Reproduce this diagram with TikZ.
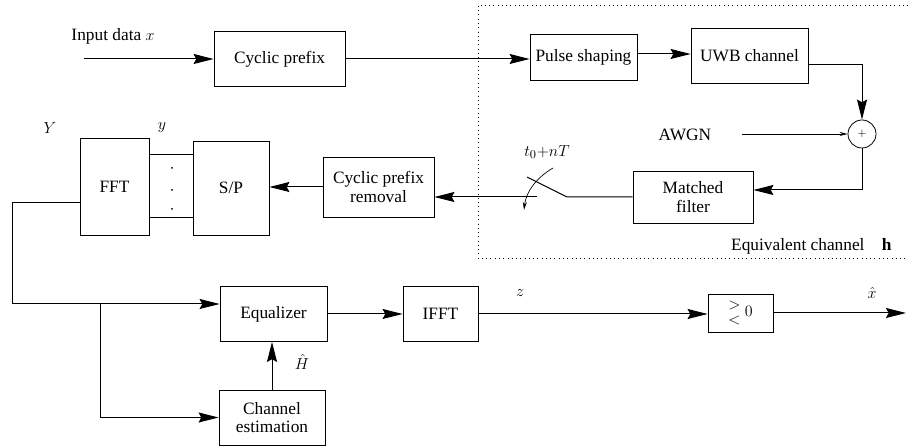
\documentclass[tikz,border=0pt]{standalone}
\usepackage{fontspec}
\setmainfont{LiberationSerif}[Extension=.ttf, UprightFont=*-Regular, BoldFont=*-Bold, ItalicFont=*-Italic, BoldItalicFont=*-BoldItalic]
\usepackage{amsmath}
\usetikzlibrary{arrows.meta}

\tikzset{every picture/.style={line width=0.75pt}}
\tikzset{
  blk/.style={draw, line width=0.6pt, inner sep=0.75pt, align=center, font=\rmfamily\fontsize{13}{14}\selectfont},
  lbl/.style={inner sep=0.75pt, font=\rmfamily\fontsize{13}{14}\selectfont},
  arr/.style={-{Stealth[length=15pt,width=7.5pt,inset=2pt]}},
  thin arr/.style={line width=0.5pt, -{Stealth[length=6pt,width=3pt]}},
}

\begin{document}
\begin{tikzpicture}[x=0.75pt,y=0.75pt,yscale=-1,xscale=1]
\useasboundingbox (0,0) rectangle (908,448);

%Shape: Rectangle (equivalent channel, dotted)
\draw [line width=0.6pt, dash pattern=on 0.6pt off 2.6pt] (908,5) -- (478,5) -- (478,258) -- (908,258) ;

%Shape: Rectangle
\node [blk, minimum width=98.25pt, minimum height=41.25pt] (cp) at (279.5,59) {Cyclic prefix};
%Shape: Rectangle
\node [blk, minimum width=80.25pt, minimum height=34.5pt] (ps) at (583.5,57) {Pulse shaping};
%Shape: Rectangle
\node [blk, minimum width=87.75pt, minimum height=41.25pt] (uwb) at (749.5,56) {UWB channel};
%Shape: Circle
\node [draw, circle, line width=0.6pt, minimum size=21pt, inner sep=0pt, font=\footnotesize] (sum) at (862,134) {$+$};
%Shape: Rectangle
\node [blk, minimum width=90pt, minimum height=39pt] (mf) at (693,197) {Matched\\filter};
%Shape: Rectangle
\node [blk, minimum width=83.25pt, minimum height=45pt] (cpr) at (378.5,187) {Cyclic prefix\\removal};
%Shape: Rectangle
\node [blk, minimum width=57pt, minimum height=70.5pt] (sp) at (231,188) {S/P};
%Shape: Rectangle
\node [blk, minimum width=51.75pt, minimum height=72.75pt] (fft) at (114.5,186.5) {FFT};
%Shape: Rectangle
\node [blk, minimum width=80.25pt, minimum height=41.25pt] (eq) at (273.5,314) {Equalizer};
%Shape: Rectangle
\node [blk, minimum width=56.25pt, minimum height=41.25pt] (ifft) at (440.5,314) {IFFT};
%Shape: Rectangle
\node [blk, minimum width=48.75pt, minimum height=28.5pt] (dec) at (740.5,313) {$\begin{array}{@{}c@{}}>\\[-3pt]<\end{array}\;0$};
%Shape: Rectangle
\node [blk, minimum width=79.5pt, minimum height=41.25pt] (ce) at (272,417.5) {Channel\\estimation};

% Text Node
\node [lbl] (inlbl) at (113,36) {Input data $x$};
% Text Node
\node [lbl] (awgn) at (685,135) {AWGN};
% Text Node
\node [lbl] (tlbl) at (547,152) {$t_0{+}nT$};
% Text Node
\node [lbl] (ylbl) at (50,128) {$Y$};
% Text Node
\node [lbl] (ylow) at (162,128) {$y$};
% Text Node
\node [lbl] (hhat) at (302,362) {$\hat{H}$};
% Text Node
\node [lbl] (zlbl) at (520,293) {$z$};
% Text Node
\node [lbl] (xhat) at (872,293) {$\hat{x}$};
% Text Node
\node [lbl, anchor=east] (eqch) at (893,246) {Equivalent channel\quad$\mathbf{h}$};

\coordinate (in) at (84,59);
\coordinate (out) at (906,313);
\coordinate (noise) at (742,134);
\coordinate (swa) at (567,197);
\coordinate (swb) at (527,177);
\coordinate (swc) at (537,197);
\coordinate (smpa) at (553,168);
\coordinate (smpb) at (524,210);
\coordinate (bend) at (12,304);
\coordinate (br) at (100,304);

%Straight Lines
\draw [arr] (in) -- (cp.west) ;
\draw [arr] (cp.east) -- (cp.east -| ps.west) ;
\draw [arr] ([yshift=-2.25pt]ps.east) -- ([yshift=-2.25pt]ps.east -| uwb.west) ;
\draw [arr] ([yshift=6.75pt]uwb.east) -| (sum.north) ;
\draw [thin arr] (noise) -- (sum.west) ;
\draw [arr] (sum.south) |- ([yshift=-5.25pt]mf.east) ;
% switch
\draw (mf.west) -- (swa) -- (swb) ;
\draw [arr] (swc) -- (swc -| cpr.east) ;
\draw [thin arr] (smpa) .. controls (536,178) and (526,192) .. (smpb) ;
\draw [arr] (cpr.west) -- (cpr.west -| sp.east) ;
% parallel lines
\draw ([yshift=23.625pt]fft.east) -- ([yshift=23.625pt]fft.east -| sp.west) ;
\draw ([yshift=-23.625pt]fft.east) -- ([yshift=-23.625pt]fft.east -| sp.west) ;
\foreach \yy in {168,190,209} \fill (172,\yy) circle (1) ;
\draw [arr] ([yshift=12.375pt]fft.west) -| (bend) -- (bend -| eq.west) ;
\draw [arr] (br) |- (ce.west) ;
\draw [arr] (ce.north) -- (ce.north |- eq.south) ;
\draw [arr] (eq.east) -- (ifft.west) ;
\draw [arr] (ifft.east) -- (ifft.east -| dec.west) ;
\draw [arr] (dec.east) -- (out) ;

\end{tikzpicture}
\end{document}
